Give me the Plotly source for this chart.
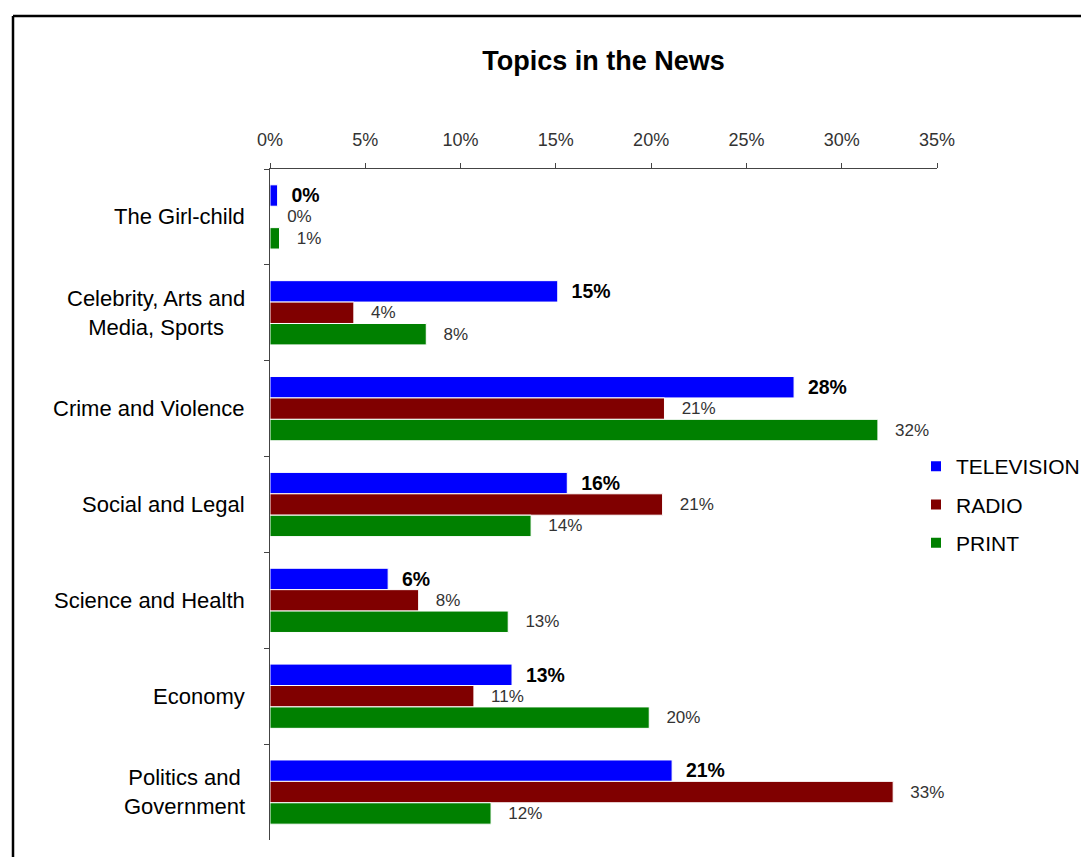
import plotly.graph_objects as go

categories = ["The Girl-child", "Celebrity, Arts and<br>Media, Sports", "Crime and Violence",
              "Social and Legal", "Science and Health", "Economy", "Politics and<br>Government"]
television = [0.4, 15.1, 27.5, 15.6, 6.2, 12.7, 21.1]
radio = [0.0, 4.4, 20.7, 20.6, 7.8, 10.7, 32.7]
printed = [0.5, 8.2, 31.9, 13.7, 12.5, 19.9, 11.6]
x_ticks = [0, 5, 10, 15, 20, 25, 30, 35]

FONT = "Liberation Sans, Arial, sans-serif"
PLOT_W = 667

fig = go.Figure()
series = [
    ("TELEVISION", television, "#0000FF", dict(size=20, family=FONT, color="#000000"), "  <b>%{x:.0f}%</b>"),
    ("RADIO", radio, "#800000", dict(size=17, family=FONT, color="#333333"), "   %{x:.0f}%"),
    ("PRINT", printed, "#008000", dict(size=17, family=FONT, color="#333333"), "   %{x:.0f}%"),
]
for name, vals, color, tfont, tmpl in series:
    fig.add_trace(go.Bar(
        y=categories, x=vals, name=name, orientation="h", legendgroup=name,
        marker=dict(color=color, line=dict(color="white", width=1)),
        texttemplate=tmpl, textposition="outside", textfont=tfont,
        cliponaxis=False,
    ))

# category labels, centred on each line like the original axis labels
annotations = [
    dict(text=c, x=-23 / PLOT_W, xref="paper", xanchor="right", y=c, yref="y",
         yanchor="middle", align="center", showarrow=False,
         font=dict(size=22, family=FONT, color="#000000"))
    for c in categories
]

fig.update_layout(
    width=1081, height=857,
    barmode="group", bargap=0.33, bargroupgap=0.0,
    paper_bgcolor="white", plot_bgcolor="white",
    margin=dict(l=270, r=144, t=169, b=17, autoexpand=False),
    title=dict(text="<b>Topics in the News</b>", x=0.5, xanchor="center",
               xref="paper", y=1 - 61 / 857, yanchor="middle",
               font=dict(size=27, family=FONT, color="#000000")),
    legend=dict(x=1 + (916 - 937) / PLOT_W, y=0.5, xanchor="left", yanchor="middle",
                font=dict(size=21, family=FONT, color="#000000"),
                tracegroupgap=8, itemsizing="constant", bgcolor="rgba(0,0,0,0)"),
    showlegend=True,
    annotations=annotations,
    shapes=[
        dict(type="line", xref="paper", yref="paper", x0=-257 / PLOT_W, x1=-257 / PLOT_W,
             y0=1 + 153 / 671, y1=-0.1, line=dict(color="#000000", width=2.5)),
        dict(type="line", xref="paper", yref="paper", x0=-257 / PLOT_W, x1=1.3,
             y0=1 + 153 / 671, y1=1 + 153 / 671, line=dict(color="#000000", width=2.5)),
    ],
)

fig.update_xaxes(
    side="top", range=[0, 35], tickvals=x_ticks,
    ticktext=[f"{v}%" for v in x_ticks],
    showgrid=False, zeroline=False, showline=True, linecolor="#444444", linewidth=1,
    ticks="outside", ticklen=5, tickcolor="#444444", ticklabelstandoff=10,
    tickfont=dict(size=18, family=FONT, color="#333333"),
)
fig.update_yaxes(
    autorange="reversed", showgrid=False, showline=True, linecolor="#444444", linewidth=1,
    ticks="outside", ticklen=5, tickcolor="#444444", tickson="boundaries",
    showticklabels=False,
)

fig.write_html("out.html")
